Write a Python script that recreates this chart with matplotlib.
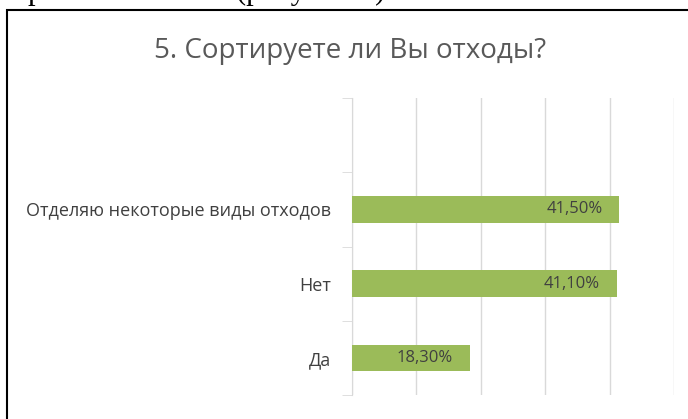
import matplotlib.pyplot as plt
from matplotlib.patches import Rectangle

categories = ['Да', 'Нет', 'Отделяю некоторые виды отходов', '']
values = [18.3, 41.1, 41.5]
value_labels = ['18,30%', '41,10%', '41,50%']
title = '5. Сортируете ли Вы отходы?'

plt.rcParams['font.family'] = ['Open Sans', 'DejaVu Sans']

fig = plt.figure(figsize=(6.88, 4.19), dpi=100)

# рамка диаграммы и обрезанная строка текста документа сверху
fig.patches.append(Rectangle((7 / 688, -0.1), 1.2, 1 - 10 / 419 + 0.1,
                             transform=fig.transFigure, fill=False,
                             edgecolor='black', linewidth=1.5))
fig.text(28 / 688, 1 + 1 / 419, 'р', family='Liberation Serif', fontsize=22,
         va='baseline', ha='left', color='black')
fig.text(236 / 688, 1 + 1 / 419, '(рисунок 5)', family='Liberation Serif', fontsize=22,
         va='baseline', ha='left', color='black')

ax = fig.add_axes([351.7 / 688, 1 - 395 / 419, (674 - 351.7) / 688, (395 - 98) / 419])

ypos = list(range(len(values)))
ax.barh(ypos, values, height=0.36, color='#9bbb59', zorder=3)
for y, v, lab in zip(ypos, values, value_labels):
    ax.text(v - 2.6, y, lab, ha='right', va='center', fontsize=12, color='#404040', zorder=4)

ax.set_xlim(0, 50)
ax.set_ylim(-0.5, 3.5)
ax.set_xticks([0, 10, 20, 30, 40, 50])
ax.tick_params(axis='x', length=0, labelbottom=False)
ax.grid(axis='x', color='#d9d9d9', linewidth=1, zorder=0)

ax.set_yticks(range(len(categories)))
ax.set_yticklabels(categories, fontsize=13, color='#404040')
ax.set_yticks([-0.5, 0.5, 1.5, 2.5, 3.5], minor=True)
ax.tick_params(axis='y', which='major', length=0, pad=15)
ax.tick_params(axis='y', which='minor', length=7, color='#d9d9d9', direction='out')

for s in ['top', 'right', 'bottom']:
    ax.spines[s].set_visible(False)
ax.spines['left'].set_color('#d9d9d9')

fig.text(350 / 688, 1 - 51 / 419, title, ha='center', va='center', fontsize=20, color='#595959')

fig.savefig('out.png', dpi=100)
